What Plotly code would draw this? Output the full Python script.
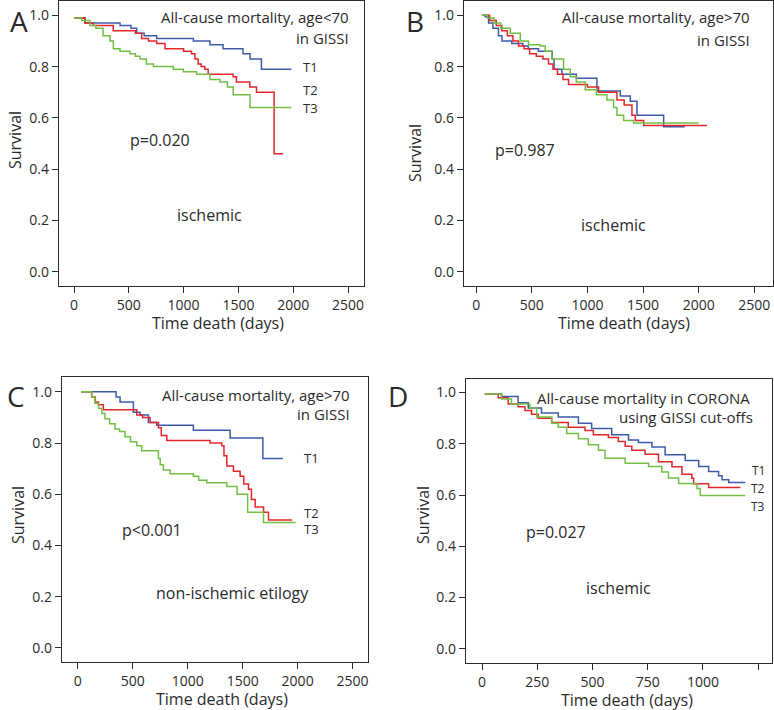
import plotly.graph_objects as go

W, H = 774, 710

BLUE = "#3d5ba9"
RED = "#e3262b"
GREEN = "#72bf44"
INK = "#2b2b2b"
FONT = "Open Sans"

tiers = ["T1", "T2", "T3"]

# Panel A: all-cause mortality, age<70, GISSI (ischemic)
a_t1_days = [0, 100, 420, 520, 572, 640, 754, 1089, 1241, 1360, 1542, 1606, 1710, 1983]
a_t1_surv = [0.99, 0.97, 0.96, 0.95, 0.93, 0.92, 0.91, 0.90, 0.885, 0.87, 0.85, 0.83, 0.79, 0.79]
a_t2_days = [0, 100, 175, 358, 560, 617, 680, 754, 830, 1000, 1072, 1103, 1133, 1160, 1194, 1224,
             1452, 1482, 1604, 1665, 1826, 1908]
a_t2_surv = [0.99, 0.97, 0.96, 0.94, 0.93, 0.91, 0.90, 0.89, 0.87, 0.86, 0.85, 0.83, 0.81, 0.80, 0.79, 0.77,
             0.76, 0.74, 0.72, 0.70, 0.46, 0.46]
a_t3_days = [0, 70, 146, 200, 265, 328, 359, 420, 511, 560, 602, 660, 724, 906, 997, 1119, 1240, 1332,
             1400, 1453, 1606, 1983]
a_t3_surv = [0.99, 0.98, 0.96, 0.95, 0.92, 0.90, 0.87, 0.86, 0.85, 0.84, 0.83, 0.81, 0.80, 0.79, 0.78, 0.77,
             0.75, 0.74, 0.72, 0.69, 0.64, 0.64]

# Panel B: all-cause mortality, age>70, GISSI (ischemic)
b_t1_days = [50, 81, 111, 150, 200, 231, 320, 420, 468, 560, 683, 700, 771, 900, 1085, 1295, 1385, 1445,
             1685, 1875]
b_t1_surv = [1.0, 0.995, 0.97, 0.95, 0.92, 0.90, 0.89, 0.88, 0.87, 0.86, 0.83, 0.79, 0.77, 0.755, 0.705,
             0.685, 0.665, 0.61, 0.565, 0.565]
b_t2_days = [60, 120, 180, 230, 280, 330, 380, 430, 480, 540, 600, 650, 690, 730, 780, 830, 1000, 1100,
             1265, 1330, 1400, 1430, 1505, 2075]
b_t2_surv = [1.0, 0.98, 0.96, 0.94, 0.92, 0.90, 0.88, 0.87, 0.85, 0.84, 0.83, 0.81, 0.79, 0.77, 0.75, 0.73,
             0.72, 0.70, 0.67, 0.65, 0.61, 0.59, 0.57, 0.57]
b_t3_days = [50, 100, 160, 220, 306, 396, 470, 575, 620, 680, 785, 845, 900, 980, 1080, 1175, 1235, 1265,
             1325, 1415, 2000]
b_t3_surv = [1.0, 0.99, 0.97, 0.95, 0.93, 0.90, 0.885, 0.88, 0.86, 0.83, 0.79, 0.76, 0.74, 0.71, 0.69,
             0.67, 0.64, 0.61, 0.59, 0.58, 0.58]

# Panel C: all-cause mortality, age>70, GISSI (non-ischemic)
c_t1_days = [30, 349, 385, 506, 567, 643, 719, 1052, 1386, 1684, 1866]
c_t1_surv = [1.0, 0.98, 0.96, 0.92, 0.91, 0.88, 0.87, 0.85, 0.82, 0.74, 0.74]
c_t2_days = [30, 127, 160, 188, 233, 537, 590, 658, 734, 760, 810, 1204, 1311, 1330, 1356, 1416, 1477,
             1510, 1553, 1580, 1614, 1690, 1735, 1950]
c_t2_surv = [1.0, 0.98, 0.96, 0.95, 0.93, 0.91, 0.90, 0.88, 0.86, 0.83, 0.81, 0.80, 0.79, 0.75, 0.71,
             0.69, 0.67, 0.64, 0.62, 0.58, 0.55, 0.53, 0.50, 0.50]
c_t3_days = [30, 127, 157, 190, 220, 248, 290, 339, 380, 430, 480, 537, 582, 734, 750, 779, 840, 1052,
             1100, 1174, 1356, 1450, 1545, 1690, 1982]
c_t3_surv = [1.0, 0.98, 0.955, 0.935, 0.915, 0.895, 0.875, 0.855, 0.845, 0.825, 0.805, 0.79, 0.77, 0.74,
             0.715, 0.695, 0.68, 0.67, 0.655, 0.645, 0.63, 0.60, 0.53, 0.49, 0.49]

# Panel D: all-cause mortality in CORONA using GISSI cut-offs (ischemic)
d_t1_days = [12, 88, 163, 209, 269, 345, 436, 496, 587, 663, 708, 769, 829, 920, 981, 1026, 1071, 1087,
             1117, 1192]
d_t1_surv = [0.995, 0.985, 0.96, 0.94, 0.92, 0.905, 0.88, 0.86, 0.835, 0.815, 0.805, 0.787, 0.757, 0.735,
             0.711, 0.692, 0.675, 0.66, 0.649, 0.649]
d_t2_days = [12, 73, 118, 163, 194, 224, 254, 315, 390, 466, 504, 572, 617, 648, 678, 738, 799, 860, 905,
             950, 958, 1026, 1170]
d_t2_surv = [0.995, 0.98, 0.955, 0.945, 0.93, 0.915, 0.90, 0.883, 0.865, 0.852, 0.835, 0.825, 0.809, 0.79,
             0.775, 0.759, 0.73, 0.71, 0.681, 0.665, 0.644, 0.629, 0.629]
d_t3_days = [12, 88, 133, 216, 247, 315, 345, 383, 436, 481, 527, 557, 648, 754, 814, 844, 890, 973, 988,
             1192]
d_t3_surv = [0.995, 0.975, 0.955, 0.94, 0.905, 0.88, 0.865, 0.84, 0.82, 0.796, 0.775, 0.744, 0.724, 0.711,
             0.69, 0.666, 0.645, 0.625, 0.598, 0.598]

y_ticks = [0.0, 0.2, 0.4, 0.6, 0.8, 1.0]
y_ticktext = ["0.0", "0.2", "0.4", "0.6", "0.8", "1.0"]
x_ticks_gissi = [0, 500, 1000, 1500, 2000, 2500]
x_ticks_corona = [0, 250, 500, 750, 1000, 1250]


def P(x, y):
    # pixel position -> paper coordinates
    return x / W, 1 - y / H


panels = [
    dict(name="A", series=[(a_t1_days, a_t1_surv), (a_t2_days, a_t2_surv), (a_t3_days, a_t3_surv)],
         box=(59, 1, 364, 286), xr=[-137, 2646], yr=[-0.056, 1.056], xt=x_ticks_gissi),
    dict(name="B", series=[(b_t1_days, b_t1_surv), (b_t2_days, b_t2_surv), (b_t3_days, b_t3_surv)],
         box=(464, 1, 773, 286), xr=[-110, 2668], yr=[-0.056, 1.056], xt=x_ticks_gissi),
    dict(name="C", series=[(c_t1_days, c_t1_surv), (c_t2_days, c_t2_surv), (c_t3_days, c_t3_surv)],
         box=(62, 377, 368, 662), xr=[-143, 2640], yr=[-0.055, 1.058], xt=x_ticks_gissi),
    dict(name="D", series=[(d_t1_days, d_t1_surv), (d_t2_days, d_t2_surv), (d_t3_days, d_t3_surv)],
         box=(466, 379, 772, 663), xr=[-73, 1313], yr=[-0.056, 1.053], xt=x_ticks_corona),
]

fig = go.Figure()
layout = dict(
    template="none",
    width=W, height=H, margin=dict(l=0, r=0, t=0, b=0, autoexpand=False),
    paper_bgcolor="white", plot_bgcolor="white", showlegend=False,
    font=dict(family=FONT, color=INK),
)

colors = [BLUE, RED, GREEN]
for i, p in enumerate(panels):
    n = "" if i == 0 else str(i + 1)
    x0, y0, x1, y1 = p["box"]
    for (days, surv), c, tier in zip(p["series"], colors, tiers):
        fig.add_trace(go.Scatter(x=days, y=surv, mode="lines", line=dict(color=c, width=1.5, shape="hv"),
                                 name=tier, xaxis="x" + n, yaxis="y" + n))
    ax = dict(showline=True, mirror=True, linecolor=INK, linewidth=1.3, showgrid=False, zeroline=False,
              automargin=False, ticks="outside", ticklen=6, tickcolor=INK, tickwidth=1,
              tickfont=dict(size=14, color=INK))
    layout["xaxis" + n] = dict(ax, domain=[x0 / W, x1 / W], range=p["xr"], tickvals=p["xt"],
                               anchor="y" + n)
    layout["yaxis" + n] = dict(ax, domain=[1 - y1 / H, 1 - y0 / H], range=p["yr"], tickvals=y_ticks,
                               ticktext=y_ticktext, anchor="x" + n)

fig.update_layout(**layout)

ann = []


def text(x, y, s, size, xanchor="center", angle=0, yanchor="middle"):
    px, py = P(x, y)
    ann.append(dict(x=px, y=py, xref="paper", yref="paper", text=s, showarrow=False,
                    font=dict(size=size, family=FONT, color=INK), xanchor=xanchor, yanchor=yanchor,
                    textangle=angle))


# panel letters
text(19, 0, "A", 28, yanchor="top")
text(415, 0, "B", 28, yanchor="top")
text(16, 375, "C", 28, yanchor="top")
text(398, 375, "D", 28, yanchor="top")

# axis titles
for x, y in [(218, 323), (624, 323), (222, 699), (627, 700)]:
    text(x, y, "Time death (days)", 16)
for x, y in [(15, 140), (415, 153), (18, 515), (423, 515)]:
    text(x, y, "Survival", 16, angle=-90)

# panel A
text(351, 17, "All-cause mortality, age<70", 15, "right")
text(351, 38, "in GISSI", 15, "right")
text(310, 67, "T1", 13)
text(310, 90, "T2", 13)
text(310, 108, "T3", 13)
text(160, 140, "p=0.020", 16)
text(209, 215, "ischemic", 16)

# panel B
text(752, 17, "All-cause mortality, age>70", 15, "right")
text(752, 40, "in GISSI", 15, "right")
text(525, 150, "p=0.987", 16)
text(613, 225, "ischemic", 16)

# panel C
text(352, 395, "All-cause mortality, age>70", 15, "right")
text(352, 414, "in GISSI", 15, "right")
text(311, 458, "T1", 13)
text(311, 513, "T2", 13)
text(311, 529, "T3", 13)
text(152, 530, "p<0.001", 16)
text(232, 593, "non-ischemic etilogy", 16)

# panel D
text(752, 398, "All-cause mortality in CORONA", 15, "right")
text(755, 417, "using GISSI cut-offs", 15, "right")
text(758, 470, "T1", 12)
text(758, 488, "T2", 12)
text(758, 506, "T3", 12)
text(556, 532, "p=0.027", 16)
text(618, 588, "ischemic", 16)

fig.update_layout(annotations=ann)
fig.write_html("out.html", config={"displayModeBar": False},
               post_script="document.body.style.margin='0';")
